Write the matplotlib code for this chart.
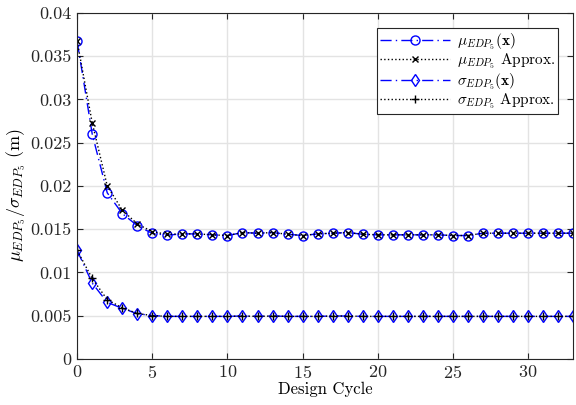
import numpy as np
import matplotlib.pyplot as plt
from matplotlib.ticker import FuncFormatter

plt.rcParams['font.family'] = 'cmr10'
plt.rcParams['mathtext.fontset'] = 'cm'
plt.rcParams['axes.formatter.use_mathtext'] = True

cycle = np.arange(0, 34)

mu = [0.0367, 0.0260, 0.0192, 0.0168, 0.0154, 0.0145, 0.0143, 0.01445, 0.01445, 0.01434,
      0.01426, 0.0146, 0.01453, 0.0146, 0.01441, 0.01426, 0.01445, 0.01453, 0.0146, 0.01441,
      0.01434, 0.01434, 0.01434, 0.01434, 0.01434, 0.01426, 0.01426, 0.01453, 0.01453, 0.01453,
      0.01453, 0.01453, 0.01453, 0.01453]
mu_approx = [0.0367, 0.0273, 0.0200, 0.0172, 0.0156, 0.0147, 0.0144, 0.01445, 0.01445, 0.01434,
             0.01426, 0.0146, 0.01453, 0.0146, 0.01441, 0.01426, 0.01445, 0.01453, 0.0146, 0.01441,
             0.01434, 0.01434, 0.01434, 0.01434, 0.01434, 0.01426, 0.01426, 0.01453, 0.01453, 0.01453,
             0.01453, 0.01453, 0.01453, 0.01453]
sigma = [0.01253, 0.00876, 0.00653, 0.00584, 0.00522, 0.0050, 0.00491, 0.00491, 0.00491, 0.00491,
         0.00491, 0.00495, 0.00491, 0.00495, 0.00491, 0.00491, 0.00491, 0.00495, 0.00495, 0.00491,
         0.00491, 0.00491, 0.00491, 0.00491, 0.00491, 0.00491, 0.00491, 0.00491, 0.00491, 0.00491,
         0.00491, 0.00491, 0.00491, 0.00491]
sigma_approx = [0.01253, 0.0093, 0.00684, 0.0059, 0.00525, 0.0050, 0.00491, 0.00491, 0.00491, 0.00491,
                0.00491, 0.00495, 0.00491, 0.00495, 0.00491, 0.00491, 0.00491, 0.00495, 0.00495, 0.00491,
                0.00491, 0.00491, 0.00491, 0.00491, 0.00491, 0.00491, 0.00491, 0.00491, 0.00491, 0.00491,
                0.00491, 0.00491, 0.00491, 0.00491]

fig = plt.figure(figsize=(5.76, 4.05), dpi=100)
ax = fig.add_axes([0.134, 0.114, 0.861, 0.854])

dashdot = (0, (8, 3, 1, 3))
ax.plot(cycle, mu, color='blue', linestyle=dashdot, lw=1, marker='o', ms=6.5,
        mfc='none', mew=1, label=r'$\mu_{EDP_5}(\mathbf{x})$')
ax.plot(cycle, mu_approx, color='black', linestyle=':', lw=1, marker='x', ms=4,
        mew=1, label=r'$\mu_{EDP_5}$ Approx.')
ax.plot(cycle, sigma, color='blue', linestyle=dashdot, lw=1, marker='d', ms=6,
        mfc='none', mew=1, label=r'$\sigma_{EDP_5}(\mathbf{x})$')
ax.plot(cycle, sigma_approx, color='black', linestyle=':', lw=1, marker='+', ms=6,
        mew=1, label=r'$\sigma_{EDP_5}$ Approx.')

ax.set_xlim(0, 33)
ax.set_ylim(0, 0.04)
ax.set_xticks(np.arange(0, 31, 5))
ax.set_yticks(np.arange(0, 0.0401, 0.005))
ax.yaxis.set_major_formatter(FuncFormatter(lambda v, p: '0' if v == 0 else f'{v:g}'))
ax.grid(True, color='#e3e3e3', lw=1)
ax.set_axisbelow(True)
ax.tick_params(direction='in', top=True, right=True, labelsize=13, length=4,
               colors='#262626', pad=4)
for s in ax.spines.values():
    s.set_color('#262626')

ax.set_xlabel('Design Cycle', fontsize=12, labelpad=0)
ax.set_ylabel(r'$\mu_{EDP_5}/\sigma_{EDP_5}$ (m)', fontsize=13)
ax.yaxis.set_label_coords(-0.1, 0.474)

leg = ax.legend(loc='upper right', fontsize=11, fancybox=False, edgecolor='#262626',
                framealpha=1, borderaxespad=1.0, handlelength=4.6, labelspacing=0.0,
                borderpad=0.2, handletextpad=0.4)
leg.get_frame().set_linewidth(0.8)

fig.savefig('out.png', dpi=100)
